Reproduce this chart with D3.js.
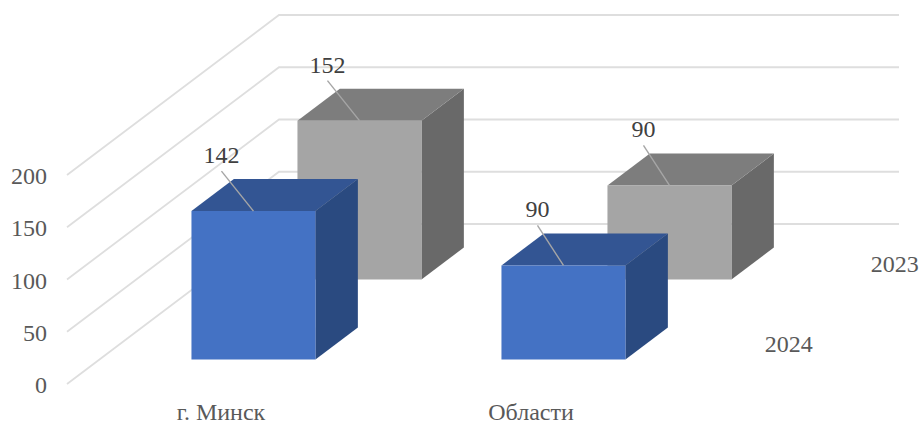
<!DOCTYPE html>
<html>
<head>
<meta charset="utf-8">
<script src="https://cdn.jsdelivr.net/npm/d3@7"></script>
<style>
  html, body { margin: 0; padding: 0; background: #fff; }
  svg { display: block; }
  text { font-family: "Liberation Serif", serif; }
</style>
</head>
<body>
<div id="chart"></div>
<script>
const categories = ['г. Минск', 'Области'];
const seriesNames = ['2024', '2023'];
const values2024 = [142, 90];
const values2023 = [152, 90];
const yTicks = [0, 50, 100, 150, 200];

const width = 919;
const height = 421;
const fontSize = 24;

// front left corner of the floor and size of the floor in pixels
const originX = 67;
const originY = 384;
const floorWidth = 620;
const floorDepth = 160;
const skew = 212 / 160;

const xScale = d3.scaleBand()
  .domain(categories)
  .range([-1, floorWidth - 1])
  .paddingInner(0.6)
  .paddingOuter(0.3);

const yScale = d3.scaleLinear()
  .domain([0, 200])
  .range([0, 209]);

// front series sits near the viewer, so it goes first
const zScale = d3.scaleBand()
  .domain(seriesNames)
  .range([0.5, floorDepth + 0.5])
  .paddingInner(0.6)
  .paddingOuter(0.3);

// (x along the floor, value, z into the floor) -> screen
const project = (x, value, z) => [
  originX + x + z * skew,
  originY - yScale(value) - z,
];

const svg = d3.select('#chart')
  .append('svg')
  .attr('width', width)
  .attr('height', height);

// walls
const grid = svg.append('g').attr('fill', 'none').attr('stroke', '#dedede').attr('stroke-width', 1.8);
grid.selectAll('path')
  .data(yTicks)
  .enter()
  .append('path')
  .attr('d', (d) => d3.line()([
    project(0, d, 0),
    project(0, d, floorDepth),
    project(floorWidth, d, floorDepth),
  ]));

// y axis
const yAxis = d3.axisLeft(
  d3.scaleLinear().domain([0, 200]).range([originY + 1, originY + 1 - yScale(200)]),
)
  .tickValues(yTicks)
  .tickSize(0)
  .tickPadding(0);

svg.append('g')
  .attr('transform', 'translate(47, 0)')
  .call(yAxis)
  .call((g) => g.select('.domain').remove())
  .call((g) => g.selectAll('text')
    .attr('font-size', fontSize)
    .attr('font-family', '"Liberation Serif", serif')
    .attr('fill', '#595959'));

const series = [
  { name: '2023', values: values2023, front: '#a5a5a5', top: '#7d7d7d', side: '#696969' },
  { name: '2024', values: values2024, front: '#4472c4', top: '#335593', side: '#2a4a80' },
];

const poly = (pts) => `${d3.line()(pts)}Z`;

series.forEach((s) => {
  const z0 = zScale(s.name);
  const z1 = z0 + zScale.bandwidth();
  const g = svg.append('g').attr('class', `series-${s.name}`);

  categories.forEach((c, i) => {
    const x0 = xScale(c);
    const x1 = x0 + xScale.bandwidth();
    const v = s.values[i];

    g.append('path')
      .attr('fill', s.side)
      .attr('d', poly([project(x1, 0, z0), project(x1, v, z0), project(x1, v, z1), project(x1, 0, z1)]));
    g.append('path')
      .attr('fill', s.top)
      .attr('d', poly([project(x0, v, z0), project(x1, v, z0), project(x1, v, z1), project(x0, v, z1)]));
    g.append('path')
      .attr('fill', s.front)
      .attr('d', poly([project(x0, 0, z0), project(x1, 0, z0), project(x1, v, z0), project(x0, v, z0)]));
  });
});

// data labels with leader lines, on top of all bars
series.forEach((s) => {
  const z0 = zScale(s.name);
  categories.forEach((c, i) => {
    const v = s.values[i];
    const [ex, ey] = project(xScale(c) + xScale.bandwidth() / 2, v, z0);
    const sx = ex - (i === 0 ? 32 : 26);
    const sy = ey - 40;

    svg.append('line')
      .attr('x1', sx)
      .attr('y1', sy)
      .attr('x2', ex)
      .attr('y2', ey)
      .attr('stroke', '#a6a6a6')
      .attr('stroke-width', 1.4);

    svg.append('text')
      .attr('x', sx)
      .attr('y', sy - 8)
      .attr('text-anchor', 'middle')
      .attr('font-size', fontSize)
      .attr('fill', '#404040')
      .text(v);
  });
});

// category labels
const xAxis = d3.axisBottom(xScale).tickSize(0).tickPadding(0);
svg.append('g')
  .attr('transform', `translate(${originX}, 403)`)
  .call(xAxis)
  .call((g) => g.select('.domain').remove())
  .call((g) => g.selectAll('text')
    .attr('y', 0)
    .attr('dy', '0.71em')
    .attr('font-size', fontSize)
    .attr('font-family', '"Liberation Serif", serif')
    .attr('fill', '#595959'));

// series labels along the depth axis
seriesNames.forEach((name) => {
  const z = zScale(name) + zScale.bandwidth() / 2;
  const [px, py] = project(floorWidth, 0, z);
  svg.append('text')
    .attr('x', px + 48)
    .attr('y', py + 8)
    .attr('text-anchor', 'middle')
    .attr('font-size', fontSize)
    .attr('fill', '#595959')
    .text(name);
});
</script>
</body>
</html>
